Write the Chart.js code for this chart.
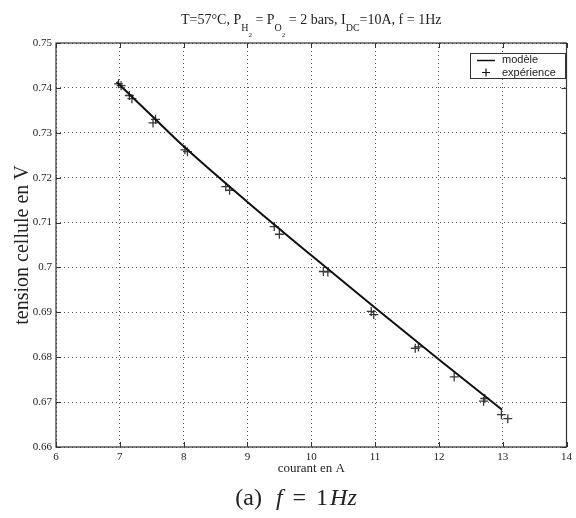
<!DOCTYPE html>
<html>
<head>
<meta charset="utf-8">
<script src="https://cdn.jsdelivr.net/npm/chart.js@4.4.1/dist/chart.umd.min.js"></script>
<style>
  html, body { margin: 0; padding: 0; background: #fff; }
  canvas { display: block; }
</style>
</head>
<body>
<canvas id="courbe" width="576" height="518"></canvas>
<script>
// --- données ---
const courantMesure = [6.98, 7.02, 7.15, 7.19, 7.52, 7.56, 8.02, 8.06, 8.66, 8.72, 9.42, 9.50,
                       10.19, 10.26, 10.94, 10.98, 11.63, 11.68, 12.24, 12.70, 12.72, 12.98, 13.08];
const tensionMesure = [0.7409, 0.7405, 0.7383, 0.7376, 0.7322, 0.7330, 0.7262, 0.7258, 0.7180, 0.7172, 0.7091, 0.7074,
                       0.6991, 0.6990, 0.6902, 0.6895, 0.6820, 0.6823, 0.6756, 0.6702, 0.6708, 0.6672, 0.6663];
const courantModele = [6.95, 7.5, 8.0, 9.0, 10.0, 11.0, 12.0, 12.99];
const tensionModele = [0.7413, 0.7338, 0.7270, 0.7146, 0.7027, 0.6910, 0.6795, 0.6683];

const xTickValeurs = [6, 7, 8, 9, 10, 11, 12, 13, 14];
const xTickLabels = ['6', '7', '8', '9', '10', '11', '12', '13', '14'];
const yTickValeurs = [0.66, 0.67, 0.68, 0.69, 0.70, 0.71, 0.72, 0.73, 0.74, 0.75];
const yTickLabels = ['0.66', '0.67', '0.68', '0.69', '0.7', '0.71', '0.72', '0.73', '0.74', '0.75'];

const serif = '"Liberation Serif", "Times New Roman", serif';
const sans = '"Liberation Sans", Arial, sans-serif';

function pts(xs, ys) {
    return xs.map((v, i) => ({ x: v, y: ys[i] }));
}

// titre avec indices, cadre, graduations internes, légende, légende de figure
const decor = {
    id: 'decor',
    afterDraw(chart) {
        const { ctx, chartArea: a, scales: { x, y } } = chart;
        ctx.save();

        // cadre
        ctx.strokeStyle = '#333';
        ctx.lineWidth = 1.2;
        ctx.strokeRect(a.left, a.top, a.right - a.left, a.bottom - a.top);

        // graduations vers l'intérieur
        ctx.lineWidth = 1;
        ctx.beginPath();
        x.ticks.forEach(t => {
            const px = Math.round(x.getPixelForValue(t.value)) + 0.5;
            ctx.moveTo(px, a.bottom); ctx.lineTo(px, a.bottom - 5);
            ctx.moveTo(px, a.top); ctx.lineTo(px, a.top + 5);
        });
        y.ticks.forEach(t => {
            const py = Math.round(y.getPixelForValue(t.value)) + 0.5;
            ctx.moveTo(a.left, py); ctx.lineTo(a.left + 5, py);
            ctx.moveTo(a.right, py); ctx.lineTo(a.right - 5, py);
        });
        ctx.stroke();

        // légende
        const lx = 470, ly = 53, lw = 95, lh = 25;
        ctx.fillStyle = '#fff';
        ctx.fillRect(lx, ly, lw, lh);
        ctx.strokeStyle = '#333';
        ctx.strokeRect(lx + 0.5, ly + 0.5, lw, lh);
        ctx.strokeStyle = '#111';
        ctx.lineWidth = 1.5;
        ctx.beginPath(); ctx.moveTo(477, 60.5); ctx.lineTo(495, 60.5); ctx.stroke();
        ctx.lineWidth = 1.2;
        ctx.beginPath();
        ctx.moveTo(482, 72.5); ctx.lineTo(490, 72.5);
        ctx.moveTo(486, 68.5); ctx.lineTo(486, 76.5);
        ctx.stroke();
        ctx.fillStyle = '#222';
        ctx.font = '11px ' + sans;
        ctx.textBaseline = 'middle';
        ctx.textAlign = 'left';
        ctx.fillText(chart.data.datasets[0].label, 502, 60);
        ctx.fillText(chart.data.datasets[1].label, 502, 73);

        // titre
        const morceaux = [
            ['T=57°C, P', 0], ['H', 1], ['2', 2], [' = P', 0], ['O', 1], ['2', 2],
            [' = 2 bars, I', 0], ['DC', 1], ['=10A, f = 1Hz', 0]
        ];
        const tailles = [14, 10, 7];
        const decal = [0, 7, 13];
        ctx.textBaseline = 'alphabetic';
        let total = 0;
        morceaux.forEach(([t, n]) => { ctx.font = tailles[n] + 'px ' + serif; total += ctx.measureText(t).width; });
        let cx = (a.left + a.right) / 2 - total / 2;
        morceaux.forEach(([t, n]) => {
            ctx.font = tailles[n] + 'px ' + serif;
            ctx.fillText(t, cx, 24 + decal[n]);
            cx += ctx.measureText(t).width;
        });

        // légende de figure
        const cap = [['(a)', '', 0], ['f', 'italic ', 14], ['=', '', 10], ['1', '', 10], ['Hz', 'italic ', 2]];
        let w = 0;
        cap.forEach(([t, st, g]) => { ctx.font = st + '24px ' + serif; w += g + ctx.measureText(t).width; });
        cx = 296 - w / 2;
        cap.forEach(([t, st, g]) => {
            ctx.font = st + '24px ' + serif;
            cx += g;
            ctx.fillText(t, cx, 505);
            cx += ctx.measureText(t).width;
        });

        ctx.restore();
    }
};

new Chart(document.getElementById('courbe'), {
    type: 'scatter',
    data: {
        datasets: [
            {
                label: 'modèle',
                type: 'line',
                data: pts(courantModele, tensionModele),
                borderColor: '#111',
                borderWidth: 2,
                pointRadius: 0,
                cubicInterpolationMode: 'monotone',
                fill: false
            },
            {
                label: 'expérience',
                data: pts(courantMesure, tensionMesure),
                pointStyle: 'cross',
                pointRadius: 4.5,
                borderColor: '#3a3a3a',
                borderWidth: 1.3,
                backgroundColor: '#3a3a3a'
            }
        ]
    },
    options: {
        responsive: false,
        animation: false,
        devicePixelRatio: 1,
        layout: { padding: { top: 43, right: 7, left: 0, bottom: 0 } },
        plugins: { legend: { display: false }, tooltip: { enabled: false } },
        scales: {
            x: {
                type: 'linear',
                min: 6, max: 14,
                afterBuildTicks: s => { s.ticks = xTickValeurs.map(v => ({ value: v })); },
                afterFit: s => { s.height = 71; },
                ticks: {
                    callback: (v, i) => xTickLabels[i],
                    font: { family: serif, size: 11 },
                    color: '#222',
                    padding: 4,
                    maxRotation: 0
                },
                grid: { color: '#555', lineWidth: 1, drawTicks: false },
                border: { display: false, dash: [1, 3] },
                title: {
                    display: true,
                    text: 'courant en A',
                    font: { family: serif, size: 13 },
                    color: '#222',
                    padding: { top: 0, bottom: 42 }
                }
            },
            y: {
                type: 'linear',
                min: 0.66, max: 0.75,
                afterBuildTicks: s => { s.ticks = yTickValeurs.map(v => ({ value: v })); },
                afterFit: s => { s.width = 56; },
                ticks: {
                    callback: (v, i) => yTickLabels[i],
                    font: { family: serif, size: 11 },
                    color: '#222',
                    padding: 4
                },
                grid: { color: '#555', lineWidth: 1, drawTicks: false },
                border: { display: false, dash: [1, 3] },
                title: {
                    display: true,
                    text: 'tension cellule en V',
                    font: { family: serif, size: 20 },
                    color: '#222',
                    padding: { top: 11, bottom: 0 }
                }
            }
        }
    },
    plugins: [decor]
});
</script>
</body>
</html>
